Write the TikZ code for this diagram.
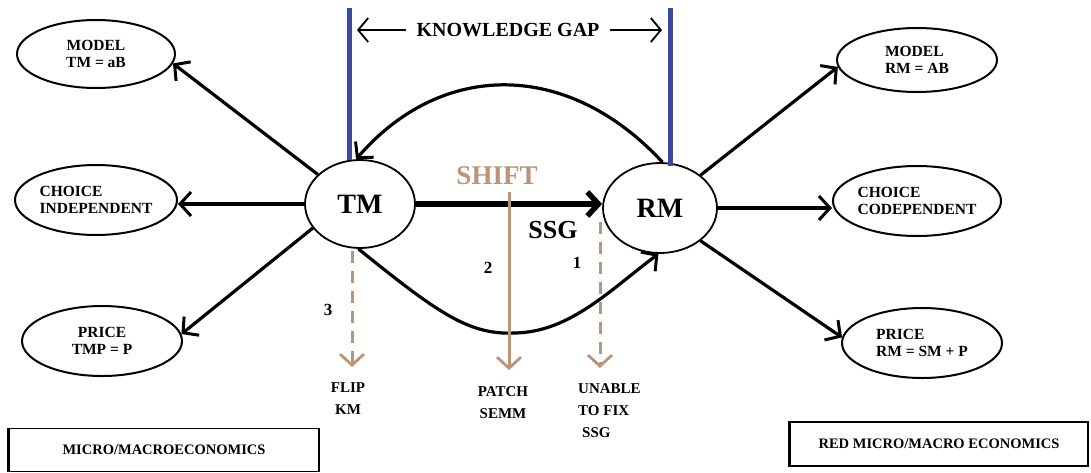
\documentclass[tikz,border=0pt]{standalone}
\usepackage{fontspec}
\setmainfont{Liberation Serif}
\usetikzlibrary{shapes.geometric,arrows.meta}
\definecolor{tanc}{RGB}{185,148,120}
\definecolor{gapblue}{RGB}{62,72,155}
\tikzset{
  oval/.style={ellipse,draw,line width=2pt,minimum width=160pt,minimum height=69pt,inner sep=0pt,
    font=\bfseries\fontsize{15.5}{19.5}\selectfont},
  hub/.style={ellipse,draw,line width=1.8pt,inner sep=0pt,font=\bfseries\fontsize{28}{30}\selectfont},
  link/.style={line width=3.2pt,-{Straight Barb[length=11pt,width=24pt,line width=3pt]}},
  tanline/.style={tanc,line width=3pt,-{Straight Barb[length=11pt,width=24pt,line width=2.8pt]}},
  tandash/.style={tanline,dash pattern=on 12pt off 8pt},
  lbl/.style={font=\bfseries\fontsize{15}{22}\selectfont,inner sep=0pt},
  num/.style={font=\bfseries\fontsize{17}{19}\selectfont,inner sep=0pt},
  boxlbl/.style={draw,line width=1.6pt,inner sep=0pt,font=\bfseries\fontsize{14.5}{16}\selectfont}
}
\begin{document}
\begin{tikzpicture}[x=1pt,y=-1pt]
\useasboundingbox (0,0) rectangle (1091,472);
% hubs
\node[hub,minimum width=110pt,minimum height=88pt] (TM) at (360,204) {TM};
\node[hub,minimum width=114pt,minimum height=90pt] (RM) at (660,208) {RM};
% left ovals
\node[oval,minimum width=158pt,minimum height=68pt,align=center] (mTM) at (96,54) {MODEL\\[-2pt]TM = aB};
\node[oval,minimum width=162pt,minimum height=70pt,align=left] (mCI) at (96,200) {CHOICE\\[-2pt]INDEPENDENT};
\node[oval,minimum width=160pt,minimum height=70pt,align=center] (mTP) at (102,341) {PRICE\\[-2pt]TMP = P};
% right ovals
\node[oval,minimum width=160pt,minimum height=64pt,align=left] (mRM) at (917,60) {MODEL\\[-2pt]RM = AB};
\node[oval,minimum width=160pt,minimum height=70pt,align=left] (mRC) at (917,201) {CHOICE\\[-2pt]CODEPENDENT};
\node[oval,minimum width=160pt,minimum height=70pt,align=left] (mRP) at (922,343) {PRICE\\[-2pt]RM = SM + P};
% arrows from TM
\draw[link] (TM.145) -- (mTM.-7);
\draw[link] (TM.west) -- (TM.west -| mCI.east);
\draw[link] (TM.207) -- (mTP.5);
% arrows from RM
\draw[link] (RM.39) -- (mRM.185);
\draw[link] (RM.east) -- (RM.east -| mRC.west);
\draw[link] (RM.-39) -- (mRP.176);
% blue gap lines
\coordinate (bl1) at (349,8);
\coordinate (bl2) at (670,8);
\draw[gapblue,line width=5pt] (bl1) -- (349,160);
\draw[gapblue,line width=5pt] (bl2) -- (670,166);
% knowledge gap
\node[font=\bfseries\fontsize{20}{22}\selectfont,inner sep=10pt] (KG) at (508,30) {KNOWLEDGE GAP};
\coordinate (kgL) at (357,30);
\coordinate (kgR) at (662,30);
\draw[line width=1.8pt,-{Straight Barb[length=10pt,width=24pt,line width=1.8pt]}] (KG.west) -- (kgL);
\draw[line width=1.8pt,-{Straight Barb[length=10pt,width=24pt,line width=1.8pt]}] (KG.east) -- (kgR);
% top curve
\draw[link] (RM.87) .. controls (568,60) and (442,60) .. (TM.95);
% bottom curve
\draw[link] (TM.-92) .. controls (440,315) and (470,335) .. (515,333)
  .. controls (570,332) and (610,290) .. (RM.-92);
% main shift arrow
\draw[line width=6pt,-{Straight Barb[length=11pt,width=24pt,line width=5.5pt]}] (TM.east) -- (TM.east -| RM.west);
% SHIFT and SSG
\node[font=\bfseries\fontsize{27}{29}\selectfont,text=tanc,inner sep=0pt] (SH) at (497,176) {SHIFT};
\node[font=\bfseries\fontsize{26}{28}\selectfont,inner sep=0pt] (SSG) at (553,230) {SSG};
% tan arrows
\coordinate (s3) at (352,251);
\coordinate (a3) at (352,367);
\coordinate (s2) at (509,192);
\coordinate (a2) at (509,370);
\coordinate (s1) at (600,222);
\coordinate (a1) at (600,368);
\draw[tandash] (s3) -- (a3);
\draw[tanline] (s2) -- (a2);
\draw[tandash] (s1) -- (a1);
% numbers
\node[num] (n3) at (328,310) {3};
\node[num] (n2) at (488,268) {2};
\node[num] (n1) at (577,263) {1};
% bottom labels
\node[lbl,align=center] (flip) at (348,399) {FLIP\\KM};
\node[lbl,align=center] (patch) at (503,403) {PATCH\\SEMM};
\node[lbl,align=left,anchor=north west] (unable) at (578,383) {UNABLE\\TO FIX\\\hspace{4pt}SSG};
% bottom boxes
\node[boxlbl,minimum width=310pt,minimum height=43pt] (bl) at (164,450) {MICRO/MACROECONOMICS};
\draw[line width=2.6pt] (bl.north west) -- (bl.south west);
\node[boxlbl,minimum width=298pt,minimum height=44pt] (br) at (939,444) {RED MICRO/MACRO ECONOMICS};
\draw[line width=2.6pt] (br.north west) -- (br.south west);
\end{tikzpicture}
\end{document}
